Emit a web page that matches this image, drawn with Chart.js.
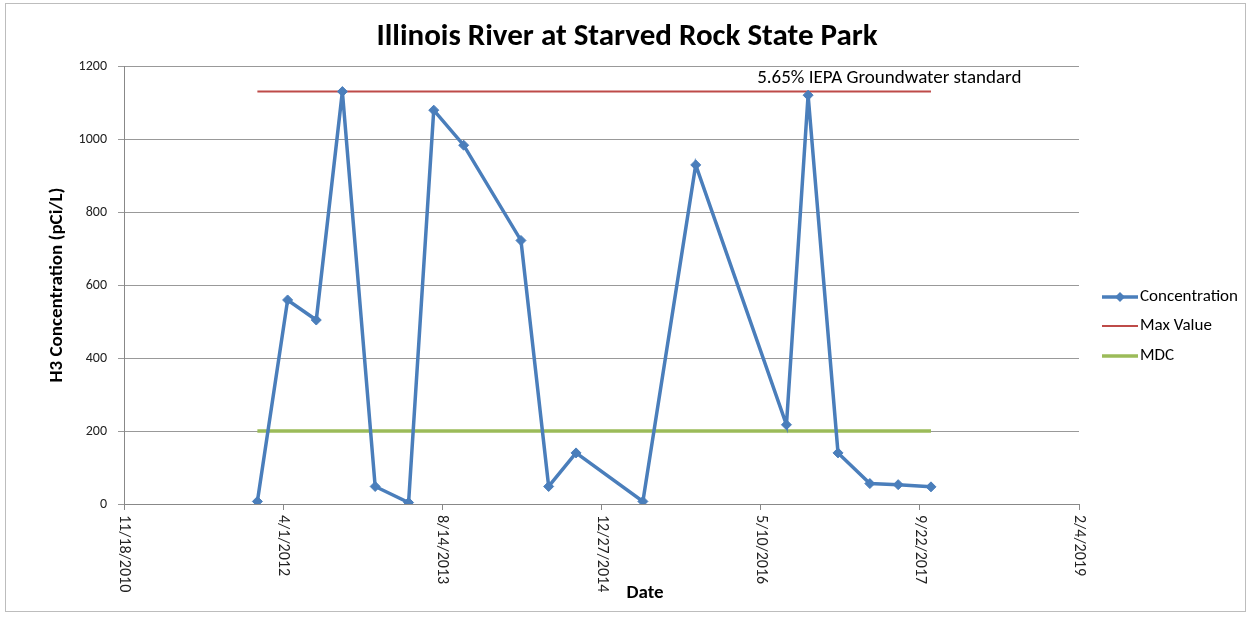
<!DOCTYPE html>
<html>
<head>
<meta charset="utf-8">
<script src="https://cdn.jsdelivr.net/npm/chart.js@4.4.1/dist/chart.umd.min.js"></script>
<style>
  html, body { margin: 0; padding: 0; background: #fff; }
  #wrap { position: relative; width: 1253px; height: 619px; }
  #frame { position: absolute; left: 5px; top: 3px; width: 1241px; height: 609px; border: 1px solid #bdbdbd; box-sizing: border-box; pointer-events: none; }
  canvas { display: block; }
</style>
</head>
<body>
<div id="wrap">
  <canvas id="chart" width="1253" height="619"></canvas>
  <div id="frame"></div>
</div>
<script>
/* DATA */
const sampleDates = [
  "1/11/2012", "4/15/2012", "7/14/2012", "10/4/2012", "1/15/2013", "4/30/2013",
  "7/18/2013", "10/20/2013", "4/18/2014", "7/14/2014", "10/8/2014", "5/6/2015",
  "10/19/2015", "7/30/2016", "10/6/2016", "1/8/2017", "4/18/2017", "7/16/2017",
  "10/27/2017"
];
const concentration = [7, 559, 504, 1130, 48, 4, 1079, 983, 722, 48, 140, 7, 929, 217, 1120, 140, 56, 53, 47];
const maxValue = 1130;
const mdc = 200;
const seriesLabels = ["Concentration", "Max Value", "MDC"];
const chartTitle = "Illinois River at Starved Rock State Park";
const yTitle = "H3 Concentration (pCi/L)";
const xTitle = "Date";
const noteText = "5.65% IEPA Groundwater standard";

const FONT = "Carlito, Lato, 'Open Sans', sans-serif";

/* Excel-style date serials so the axis ticks land on the same dates */
const EPOCH = Date.UTC(1899, 11, 30);
function toSerial(s) {
  const [m, d, y] = s.split("/").map(Number);
  return Math.round((Date.UTC(y, m - 1, d) - EPOCH) / 86400000);
}
function fromSerial(n) {
  const dt = new Date(EPOCH + n * 86400000);
  return (dt.getUTCMonth() + 1) + "/" + dt.getUTCDate() + "/" + dt.getUTCFullYear();
}

const xs = sampleDates.map(toSerial);
const concData = xs.map((x, i) => ({ x: x, y: concentration[i] }));
const maxData = xs.map(x => ({ x: x, y: maxValue }));
const mdcData = xs.map(x => ({ x: x, y: mdc }));

const colors = ["#4a7ebb", "#be4b48", "#9bbb59"];

/* Title, rotated date labels, axis title, note and legend */
const decor = {
  id: "decor",
  afterDraw(chart) {
    const ctx = chart.ctx;
    const xScale = chart.scales.x;
    const yScale = chart.scales.y;
    ctx.save();

    // title
    ctx.fillStyle = "#000";
    ctx.font = "bold 31px " + FONT;
    ctx.textAlign = "center";
    ctx.textBaseline = "middle";
    ctx.fillText(chartTitle, 627, 37);

    // x axis title (Excel put it right of centre)
    ctx.font = "bold 19px " + FONT;
    ctx.fillText(xTitle, 645, 593);

    // x tick labels, reading top to bottom
    ctx.font = "16px " + FONT;
    ctx.fillStyle = "#222";
    ctx.textAlign = "left";
    ctx.textBaseline = "middle";
    xScale.ticks.forEach(t => {
      const px = xScale.getPixelForValue(t.value);
      ctx.save();
      ctx.translate(px, yScale.bottom + 11);
      ctx.rotate(Math.PI / 2);
      ctx.fillText(fromSerial(t.value), 0, 0);
      ctx.restore();
    });

    // note above the max line
    ctx.font = "19px " + FONT;
    ctx.fillStyle = "#000";
    ctx.textAlign = "left";
    ctx.fillText(noteText, xScale.getPixelForValue(42489), yScale.getPixelForValue(1167));

    // legend
    const lx = 1102, ly = [297, 326, 356];
    ctx.font = "17px " + FONT;
    ctx.textBaseline = "middle";
    chart.data.datasets.forEach((ds, i) => {
      const y = ly[i];
      ctx.strokeStyle = ds.borderColor;
      ctx.lineWidth = ds.borderWidth;
      ctx.beginPath();
      ctx.moveTo(lx, y);
      ctx.lineTo(lx + 36, y);
      ctx.stroke();
      if (ds.pointRadius > 0) {
        ctx.fillStyle = ds.borderColor;
        ctx.beginPath();
        ctx.moveTo(lx + 18, y - 5);
        ctx.lineTo(lx + 23, y);
        ctx.lineTo(lx + 18, y + 5);
        ctx.lineTo(lx + 13, y);
        ctx.closePath();
        ctx.fill();
      }
      ctx.fillStyle = "#000";
      ctx.fillText(ds.label, lx + 38, y);
    });

    ctx.restore();
  }
};

new Chart(document.getElementById("chart"), {
  type: "line",
  data: {
    datasets: [
      {
        label: seriesLabels[0],
        data: concData,
        borderColor: colors[0],
        backgroundColor: colors[0],
        borderWidth: 3.5,
        pointStyle: "rectRot",
        pointRadius: 5,
        pointBorderWidth: 1,
        tension: 0,
        order: 0
      },
      {
        label: seriesLabels[1],
        data: maxData,
        borderColor: colors[1],
        backgroundColor: colors[1],
        borderWidth: 2,
        pointRadius: 0,
        order: 2
      },
      {
        label: seriesLabels[2],
        data: mdcData,
        borderColor: colors[2],
        backgroundColor: colors[2],
        borderWidth: 3.5,
        pointRadius: 0,
        order: 1
      }
    ]
  },
  options: {
    responsive: false,
    animation: false,
    layout: { padding: { left: 42, top: 66, right: 174, bottom: 0 } },
    plugins: {
      legend: { display: false },
      title: { display: false },
      tooltip: { enabled: false }
    },
    scales: {
      x: {
        type: "linear",
        min: 40500,
        max: 43500,
        afterFit(scale) { scale.height = 115; },
        ticks: {
          stepSize: 500,
          color: "rgba(0,0,0,0)",
          minRotation: 90,
          maxRotation: 90,
          callback: v => fromSerial(v)
        },
        grid: {
          drawOnChartArea: false,
          drawTicks: true,
          tickLength: 6,
          color: "#888"
        },
        border: { color: "#888", width: 1 },
        title: { display: false }
      },
      y: {
        min: 0,
        max: 1200,
        afterFit(scale) { scale.width = 124 - 42; },
        ticks: {
          stepSize: 200,
          color: "#222",
          padding: 11,
          font: { family: FONT, size: 14 },
          callback: v => String(v)
        },
        grid: {
          color: "#999",
          lineWidth: 1,
          drawTicks: true,
          tickLength: 6
        },
        border: { color: "#888", width: 1 },
        title: {
          display: true,
          text: yTitle,
          color: "#000",
          font: { family: FONT, size: 19, weight: "bold" },
          padding: { top: 4, bottom: 0 }
        }
      }
    }
  },
  plugins: [decor]
});
</script>
</body>
</html>
